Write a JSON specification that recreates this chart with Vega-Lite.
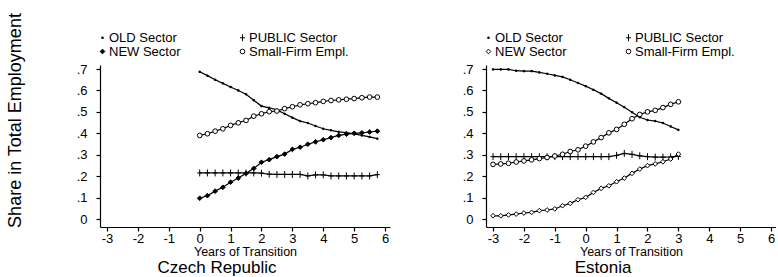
{
  "$schema": "https://vega.github.io/schema/vega-lite/v6.json",
  "padding": {"left": 6, "top": 12, "right": 0, "bottom": 0},
  "bounds": "flush",
  "spacing": 96,
  "config": {
    "font": "Liberation Sans",
    "view": {"stroke": null},
    "axis": {"domainColor": "black", "tickColor": "black", "labelColor": "black", "titleColor": "black", "grid": false, "labelFontSize": 13, "tickSize": 4, "domainWidth": 1.2, "tickWidth": 1.2, "titleFontWeight": "normal", "labelOverlap": false, "labelFlush": false},
    "legend": {"labelColor": "black", "labelFontSize": 13, "padding": 0},
    "title": {"color": "black", "fontWeight": "normal", "fontSize": 17}
  },
  "datasets": {
    "czech": [
      {"s": "OLD Sector", "t": 0, "v": 0.687}, {"s": "OLD Sector", "t": 0.25, "v": 0.669}, {"s": "OLD Sector", "t": 0.5, "v": 0.650}, {"s": "OLD Sector", "t": 0.75, "v": 0.633},
      {"s": "OLD Sector", "t": 1, "v": 0.616}, {"s": "OLD Sector", "t": 1.25, "v": 0.600}, {"s": "OLD Sector", "t": 1.5, "v": 0.582}, {"s": "OLD Sector", "t": 1.75, "v": 0.554},
      {"s": "OLD Sector", "t": 2, "v": 0.527}, {"s": "OLD Sector", "t": 2.25, "v": 0.519}, {"s": "OLD Sector", "t": 2.5, "v": 0.509}, {"s": "OLD Sector", "t": 2.75, "v": 0.491},
      {"s": "OLD Sector", "t": 3, "v": 0.473}, {"s": "OLD Sector", "t": 3.25, "v": 0.457}, {"s": "OLD Sector", "t": 3.5, "v": 0.448}, {"s": "OLD Sector", "t": 3.75, "v": 0.434},
      {"s": "OLD Sector", "t": 4, "v": 0.421}, {"s": "OLD Sector", "t": 4.25, "v": 0.414}, {"s": "OLD Sector", "t": 4.5, "v": 0.407}, {"s": "OLD Sector", "t": 4.75, "v": 0.403},
      {"s": "OLD Sector", "t": 5, "v": 0.397}, {"s": "OLD Sector", "t": 5.25, "v": 0.390}, {"s": "OLD Sector", "t": 5.5, "v": 0.383}, {"s": "OLD Sector", "t": 5.75, "v": 0.375},
      {"s": "PUBLIC Sector", "t": 0, "v": 0.215}, {"s": "PUBLIC Sector", "t": 0.25, "v": 0.215}, {"s": "PUBLIC Sector", "t": 0.5, "v": 0.215}, {"s": "PUBLIC Sector", "t": 0.75, "v": 0.215},
      {"s": "PUBLIC Sector", "t": 1, "v": 0.215}, {"s": "PUBLIC Sector", "t": 1.25, "v": 0.215}, {"s": "PUBLIC Sector", "t": 1.5, "v": 0.215}, {"s": "PUBLIC Sector", "t": 1.75, "v": 0.215},
      {"s": "PUBLIC Sector", "t": 2, "v": 0.214}, {"s": "PUBLIC Sector", "t": 2.25, "v": 0.209}, {"s": "PUBLIC Sector", "t": 2.5, "v": 0.208}, {"s": "PUBLIC Sector", "t": 2.75, "v": 0.208},
      {"s": "PUBLIC Sector", "t": 3, "v": 0.208}, {"s": "PUBLIC Sector", "t": 3.25, "v": 0.208}, {"s": "PUBLIC Sector", "t": 3.5, "v": 0.201}, {"s": "PUBLIC Sector", "t": 3.75, "v": 0.206},
      {"s": "PUBLIC Sector", "t": 4, "v": 0.206}, {"s": "PUBLIC Sector", "t": 4.25, "v": 0.201}, {"s": "PUBLIC Sector", "t": 4.5, "v": 0.201}, {"s": "PUBLIC Sector", "t": 4.75, "v": 0.201},
      {"s": "PUBLIC Sector", "t": 5, "v": 0.201}, {"s": "PUBLIC Sector", "t": 5.25, "v": 0.201}, {"s": "PUBLIC Sector", "t": 5.5, "v": 0.201}, {"s": "PUBLIC Sector", "t": 5.75, "v": 0.207},
      {"s": "NEW Sector", "t": 0, "v": 0.097}, {"s": "NEW Sector", "t": 0.25, "v": 0.109}, {"s": "NEW Sector", "t": 0.5, "v": 0.130}, {"s": "NEW Sector", "t": 0.75, "v": 0.148},
      {"s": "NEW Sector", "t": 1, "v": 0.172}, {"s": "NEW Sector", "t": 1.25, "v": 0.191}, {"s": "NEW Sector", "t": 1.5, "v": 0.213}, {"s": "NEW Sector", "t": 1.75, "v": 0.236},
      {"s": "NEW Sector", "t": 2, "v": 0.265}, {"s": "NEW Sector", "t": 2.25, "v": 0.277}, {"s": "NEW Sector", "t": 2.5, "v": 0.291}, {"s": "NEW Sector", "t": 2.75, "v": 0.303},
      {"s": "NEW Sector", "t": 3, "v": 0.325}, {"s": "NEW Sector", "t": 3.25, "v": 0.335}, {"s": "NEW Sector", "t": 3.5, "v": 0.349}, {"s": "NEW Sector", "t": 3.75, "v": 0.360},
      {"s": "NEW Sector", "t": 4, "v": 0.370}, {"s": "NEW Sector", "t": 4.25, "v": 0.380}, {"s": "NEW Sector", "t": 4.5, "v": 0.390}, {"s": "NEW Sector", "t": 4.75, "v": 0.396},
      {"s": "NEW Sector", "t": 5, "v": 0.400}, {"s": "NEW Sector", "t": 5.25, "v": 0.402}, {"s": "NEW Sector", "t": 5.5, "v": 0.406}, {"s": "NEW Sector", "t": 5.75, "v": 0.410},
      {"s": "Small-Firm Empl.", "t": 0, "v": 0.390}, {"s": "Small-Firm Empl.", "t": 0.25, "v": 0.398}, {"s": "Small-Firm Empl.", "t": 0.5, "v": 0.410}, {"s": "Small-Firm Empl.", "t": 0.75, "v": 0.421},
      {"s": "Small-Firm Empl.", "t": 1, "v": 0.437}, {"s": "Small-Firm Empl.", "t": 1.25, "v": 0.449}, {"s": "Small-Firm Empl.", "t": 1.5, "v": 0.460}, {"s": "Small-Firm Empl.", "t": 1.75, "v": 0.480},
      {"s": "Small-Firm Empl.", "t": 2, "v": 0.491}, {"s": "Small-Firm Empl.", "t": 2.25, "v": 0.501}, {"s": "Small-Firm Empl.", "t": 2.5, "v": 0.504}, {"s": "Small-Firm Empl.", "t": 2.75, "v": 0.515},
      {"s": "Small-Firm Empl.", "t": 3, "v": 0.524}, {"s": "Small-Firm Empl.", "t": 3.25, "v": 0.533}, {"s": "Small-Firm Empl.", "t": 3.5, "v": 0.538}, {"s": "Small-Firm Empl.", "t": 3.75, "v": 0.543},
      {"s": "Small-Firm Empl.", "t": 4, "v": 0.549}, {"s": "Small-Firm Empl.", "t": 4.25, "v": 0.553}, {"s": "Small-Firm Empl.", "t": 4.5, "v": 0.556}, {"s": "Small-Firm Empl.", "t": 4.75, "v": 0.559},
      {"s": "Small-Firm Empl.", "t": 5, "v": 0.562}, {"s": "Small-Firm Empl.", "t": 5.25, "v": 0.566}, {"s": "Small-Firm Empl.", "t": 5.5, "v": 0.569}, {"s": "Small-Firm Empl.", "t": 5.75, "v": 0.569}
    ],
    "estonia": [
      {"s": "OLD Sector", "t": -3, "v": 0.698}, {"s": "OLD Sector", "t": -2.75, "v": 0.698}, {"s": "OLD Sector", "t": -2.5, "v": 0.698}, {"s": "OLD Sector", "t": -2.25, "v": 0.692},
      {"s": "OLD Sector", "t": -2, "v": 0.690}, {"s": "OLD Sector", "t": -1.75, "v": 0.690}, {"s": "OLD Sector", "t": -1.5, "v": 0.684}, {"s": "OLD Sector", "t": -1.25, "v": 0.678},
      {"s": "OLD Sector", "t": -1, "v": 0.670}, {"s": "OLD Sector", "t": -0.75, "v": 0.663}, {"s": "OLD Sector", "t": -0.5, "v": 0.650}, {"s": "OLD Sector", "t": -0.25, "v": 0.635},
      {"s": "OLD Sector", "t": 0, "v": 0.620}, {"s": "OLD Sector", "t": 0.25, "v": 0.603}, {"s": "OLD Sector", "t": 0.5, "v": 0.585}, {"s": "OLD Sector", "t": 0.75, "v": 0.563},
      {"s": "OLD Sector", "t": 1, "v": 0.543}, {"s": "OLD Sector", "t": 1.25, "v": 0.522}, {"s": "OLD Sector", "t": 1.5, "v": 0.498}, {"s": "OLD Sector", "t": 1.75, "v": 0.475},
      {"s": "OLD Sector", "t": 2, "v": 0.462}, {"s": "OLD Sector", "t": 2.25, "v": 0.457}, {"s": "OLD Sector", "t": 2.5, "v": 0.448}, {"s": "OLD Sector", "t": 2.75, "v": 0.432},
      {"s": "OLD Sector", "t": 3, "v": 0.416},
      {"s": "PUBLIC Sector", "t": -3, "v": 0.291}, {"s": "PUBLIC Sector", "t": -2.75, "v": 0.291}, {"s": "PUBLIC Sector", "t": -2.5, "v": 0.291}, {"s": "PUBLIC Sector", "t": -2.25, "v": 0.291},
      {"s": "PUBLIC Sector", "t": -2, "v": 0.291}, {"s": "PUBLIC Sector", "t": -1.75, "v": 0.291}, {"s": "PUBLIC Sector", "t": -1.5, "v": 0.291}, {"s": "PUBLIC Sector", "t": -1.25, "v": 0.291},
      {"s": "PUBLIC Sector", "t": -1, "v": 0.291}, {"s": "PUBLIC Sector", "t": -0.75, "v": 0.291}, {"s": "PUBLIC Sector", "t": -0.5, "v": 0.291}, {"s": "PUBLIC Sector", "t": -0.25, "v": 0.291},
      {"s": "PUBLIC Sector", "t": 0, "v": 0.291}, {"s": "PUBLIC Sector", "t": 0.25, "v": 0.291}, {"s": "PUBLIC Sector", "t": 0.5, "v": 0.291}, {"s": "PUBLIC Sector", "t": 0.75, "v": 0.291},
      {"s": "PUBLIC Sector", "t": 1, "v": 0.297}, {"s": "PUBLIC Sector", "t": 1.25, "v": 0.306}, {"s": "PUBLIC Sector", "t": 1.5, "v": 0.302}, {"s": "PUBLIC Sector", "t": 1.75, "v": 0.295},
      {"s": "PUBLIC Sector", "t": 2, "v": 0.291}, {"s": "PUBLIC Sector", "t": 2.25, "v": 0.289}, {"s": "PUBLIC Sector", "t": 2.5, "v": 0.289}, {"s": "PUBLIC Sector", "t": 2.75, "v": 0.290},
      {"s": "PUBLIC Sector", "t": 3, "v": 0.292},
      {"s": "NEW Sector", "t": -3, "v": 0.015}, {"s": "NEW Sector", "t": -2.75, "v": 0.015}, {"s": "NEW Sector", "t": -2.5, "v": 0.019}, {"s": "NEW Sector", "t": -2.25, "v": 0.023},
      {"s": "NEW Sector", "t": -2, "v": 0.028}, {"s": "NEW Sector", "t": -1.75, "v": 0.031}, {"s": "NEW Sector", "t": -1.5, "v": 0.039}, {"s": "NEW Sector", "t": -1.25, "v": 0.042},
      {"s": "NEW Sector", "t": -1, "v": 0.047}, {"s": "NEW Sector", "t": -0.75, "v": 0.062}, {"s": "NEW Sector", "t": -0.5, "v": 0.073}, {"s": "NEW Sector", "t": -0.25, "v": 0.090},
      {"s": "NEW Sector", "t": 0, "v": 0.101}, {"s": "NEW Sector", "t": 0.25, "v": 0.124}, {"s": "NEW Sector", "t": 0.5, "v": 0.143}, {"s": "NEW Sector", "t": 0.75, "v": 0.155},
      {"s": "NEW Sector", "t": 1, "v": 0.174}, {"s": "NEW Sector", "t": 1.25, "v": 0.191}, {"s": "NEW Sector", "t": 1.5, "v": 0.213}, {"s": "NEW Sector", "t": 1.75, "v": 0.233},
      {"s": "NEW Sector", "t": 2, "v": 0.249}, {"s": "NEW Sector", "t": 2.25, "v": 0.257}, {"s": "NEW Sector", "t": 2.5, "v": 0.267}, {"s": "NEW Sector", "t": 2.75, "v": 0.280},
      {"s": "NEW Sector", "t": 3, "v": 0.303},
      {"s": "Small-Firm Empl.", "t": -3, "v": 0.255}, {"s": "Small-Firm Empl.", "t": -2.75, "v": 0.257}, {"s": "Small-Firm Empl.", "t": -2.5, "v": 0.260}, {"s": "Small-Firm Empl.", "t": -2.25, "v": 0.266},
      {"s": "Small-Firm Empl.", "t": -2, "v": 0.271}, {"s": "Small-Firm Empl.", "t": -1.75, "v": 0.276}, {"s": "Small-Firm Empl.", "t": -1.5, "v": 0.282}, {"s": "Small-Firm Empl.", "t": -1.25, "v": 0.287},
      {"s": "Small-Firm Empl.", "t": -1, "v": 0.294}, {"s": "Small-Firm Empl.", "t": -0.75, "v": 0.302}, {"s": "Small-Firm Empl.", "t": -0.5, "v": 0.315}, {"s": "Small-Firm Empl.", "t": -0.25, "v": 0.323},
      {"s": "Small-Firm Empl.", "t": 0, "v": 0.340}, {"s": "Small-Firm Empl.", "t": 0.25, "v": 0.360}, {"s": "Small-Firm Empl.", "t": 0.5, "v": 0.380}, {"s": "Small-Firm Empl.", "t": 0.75, "v": 0.402},
      {"s": "Small-Firm Empl.", "t": 1, "v": 0.418}, {"s": "Small-Firm Empl.", "t": 1.25, "v": 0.442}, {"s": "Small-Firm Empl.", "t": 1.5, "v": 0.468}, {"s": "Small-Firm Empl.", "t": 1.75, "v": 0.488},
      {"s": "Small-Firm Empl.", "t": 2, "v": 0.500}, {"s": "Small-Firm Empl.", "t": 2.25, "v": 0.507}, {"s": "Small-Firm Empl.", "t": 2.5, "v": 0.520}, {"s": "Small-Firm Empl.", "t": 2.75, "v": 0.535},
      {"s": "Small-Firm Empl.", "t": 3, "v": 0.547}
    ]
  },
  "resolve": {"scale": {"shape": "independent", "fill": "independent", "size": "independent"}},
  "hconcat": [
    {
      "width": 290,
      "height": 162,
      "data": {"name": "czech"},
      "title": {"text": "Czech Republic", "orient": "bottom", "frame": "group", "dx": -28, "offset": 2},
      "encoding": {
        "x": {"field": "t", "type": "quantitative", "scale": {"domain": [-3.227, 6.16], "nice": false, "zero": false},
              "axis": {"values": [-3, -2, -1, 0, 1, 2, 3, 4, 5, 6], "title": "Years of Transition", "titleFontSize": 12.5, "titlePadding": 0, "labelPadding": 1,
                       "labelExpr": "datum.value < 0 ? '-' + abs(datum.value) : '' + datum.value"}},
        "y": {"field": "v", "type": "quantitative", "scale": {"domain": [-0.0373, 0.7187], "nice": false, "zero": false},
              "axis": {"values": [0, 0.1, 0.2, 0.3, 0.4, 0.5, 0.6, 0.7], "title": "Share in Total Employment", "titleFontSize": 18, "titlePadding": 52, "titleY": 55, "labelPadding": 9,
                       "labelExpr": "datum.value == 0 ? '0' : replace(format(datum.value, '.1f'), '0.', '.')"}}
      },
      "layer": [
        {
          "mark": {"type": "line", "color": "black", "strokeWidth": 1.2},
          "encoding": {"detail": {"field": "s", "type": "nominal"}}
        },
        {
          "mark": {"type": "point", "filled": true, "stroke": "black", "strokeWidth": 1, "opacity": 1},
          "encoding": {
            "shape": {"field": "s", "type": "nominal",
                      "scale": {"domain": ["OLD Sector", "NEW Sector", "PUBLIC Sector", "Small-Firm Empl."], "range": ["square", "diamond", "M-0.8,0H0.8M0,-1.1V1.1", "circle"]},
                      "legend": {"orient": "none", "legendX": -4, "legendY": -34, "columns": 2, "columnPadding": 55, "rowPadding": -2, "title": null, "labelOffset": 0, "symbolStrokeColor": "black", "symbolStrokeWidth": 1, "labelFontSize": 13}},
            "fill": {"field": "s", "type": "nominal",
                     "scale": {"domain": ["OLD Sector", "NEW Sector", "PUBLIC Sector", "Small-Firm Empl."], "range": ["black", "black", "black", "white"]}},
            "size": {"field": "s", "type": "nominal",
                     "scale": {"type": "ordinal", "domain": ["OLD Sector", "NEW Sector", "PUBLIC Sector", "Small-Firm Empl."], "range": [2, 22, 40, 22]}}
          }
        }
      ]
    },
    {
      "width": 290,
      "height": 162,
      "data": {"name": "estonia"},
      "title": {"text": "Estonia", "orient": "bottom", "frame": "group", "dx": -28, "offset": 2},
      "encoding": {
        "x": {"field": "t", "type": "quantitative", "scale": {"domain": [-3.227, 6.16], "nice": false, "zero": false},
              "axis": {"values": [-3, -2, -1, 0, 1, 2, 3, 4, 5, 6], "title": "Years of Transition", "titleFontSize": 12.5, "titlePadding": 0, "labelPadding": 1,
                       "labelExpr": "datum.value < 0 ? '-' + abs(datum.value) : '' + datum.value"}},
        "y": {"field": "v", "type": "quantitative", "scale": {"domain": [-0.0373, 0.7187], "nice": false, "zero": false},
              "axis": {"values": [0, 0.1, 0.2, 0.3, 0.4, 0.5, 0.6, 0.7], "title": null, "labelPadding": 9,
                       "labelExpr": "datum.value == 0 ? '0' : replace(format(datum.value, '.1f'), '0.', '.')"}}
      },
      "layer": [
        {
          "mark": {"type": "line", "color": "black", "strokeWidth": 1.2},
          "encoding": {"detail": {"field": "s", "type": "nominal"}}
        },
        {
          "mark": {"type": "point", "filled": true, "stroke": "black", "strokeWidth": 1, "opacity": 1},
          "encoding": {
            "shape": {"field": "s", "type": "nominal",
                      "scale": {"domain": ["OLD Sector", "NEW Sector", "PUBLIC Sector", "Small-Firm Empl."], "range": ["square", "diamond", "M-0.8,0H0.8M0,-1.1V1.1", "circle"]},
                      "legend": {"orient": "none", "legendX": -4, "legendY": -34, "columns": 2, "columnPadding": 55, "rowPadding": -2, "title": null, "labelOffset": 0, "symbolStrokeColor": "black", "symbolStrokeWidth": 1, "labelFontSize": 13}},
            "fill": {"field": "s", "type": "nominal",
                     "scale": {"domain": ["OLD Sector", "NEW Sector", "PUBLIC Sector", "Small-Firm Empl."], "range": ["black", "white", "black", "white"]}},
            "size": {"field": "s", "type": "nominal",
                     "scale": {"type": "ordinal", "domain": ["OLD Sector", "NEW Sector", "PUBLIC Sector", "Small-Firm Empl."], "range": [2, 22, 40, 22]}}
          }
        }
      ]
    }
  ]
}
